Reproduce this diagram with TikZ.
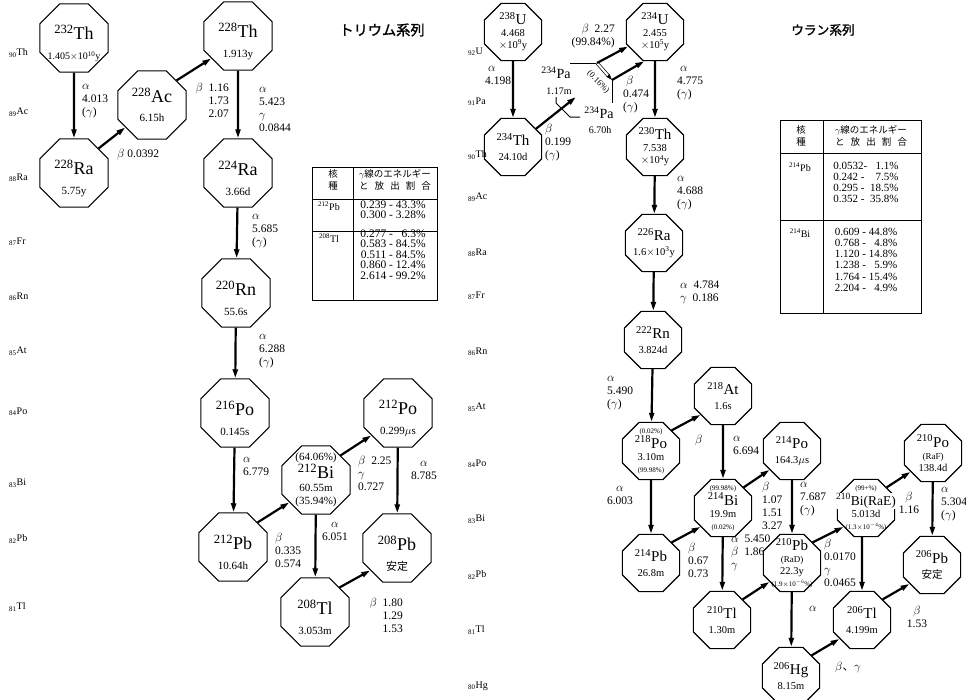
\documentclass[tikz,border=0pt]{standalone}
\usepackage{fontspec}
\setmainfont{Liberation Serif}
\newfontfamily\jp{Noto Sans CJK JP}
\newfontfamily\jpbf[FakeBold=1.5]{Noto Sans CJK JP}
\usetikzlibrary{arrows.meta, shapes.geometric, positioning}
\newcommand\iso[3][18]{{\fontsize{#1}{#1}\selectfont\textsuperscript{#2}#3}}
\newcommand\elem[2]{\textsubscript{#1}#2}
\newcommand\pct[1]{{\fontsize{7}{8}\selectfont(#1\%)}}
\newcommand\twol[2]{\rule{0pt}{26pt}#1\\[7pt]#2}
\tikzset{
    nuc/.style={regular polygon, regular polygon sides=8, draw, line width=1.1pt,
                minimum size=74pt, inner sep=-6pt, align=center,
                font=\fontsize{11}{13}\selectfont},
    nucs/.style={nuc, minimum size=62pt, font=\fontsize{10.5}{12}\selectfont},
    decay/.style={->, >={Stealth[length=9pt, width=5pt, inset=0pt]}, line width=2.2pt},
    itline/.style={->, >={Stealth[length=6pt, width=4pt, inset=0pt]}, double, double distance=2pt, line width=0.7pt},
    bracket/.style={line width=1pt},
    lbl/.style={anchor=north west, inner sep=0pt, align=left,
                font=\fontsize{11.5}{13}\selectfont, execute at begin node=\strut},
    lblr/.style={lbl, anchor=north east, align=right},
    lblc/.style={lbl, anchor=north, align=center},
    zlbl/.style={anchor=west, inner sep=0pt, font=\fontsize{10}{10}\selectfont},
    ttl/.style={inner sep=0pt, font=\jpbf\fontsize{14.2}{15}\selectfont},
    tab/.style={line width=0.9pt},
    tabjp/.style={inner sep=0pt, align=center, font=\jp\fontsize{9.5}{12}\selectfont},
    tabnum/.style={inner sep=0pt, font=\fontsize{11.5}{10}\selectfont},
}
\begin{document}
\begin{tikzpicture}[x=1pt, y=-1pt]
    \useasboundingbox (0,0) rectangle (966,699);

    % --- thorium series ---
    \node[ttl] (ttlth) at (382,30) {トリウム系列};
    \node[zlbl] (lz90) at (9,53) {\elem{90}{Th}};
    \node[zlbl] (lz89) at (9,112) {\elem{89}{Ac}};
    \node[zlbl] (lz88) at (9,178) {\elem{88}{Ra}};
    \node[zlbl] (lz87) at (9,242) {\elem{87}{Fr}};
    \node[zlbl] (lz86) at (9,297) {\elem{86}{Rn}};
    \node[zlbl] (lz85) at (9,351) {\elem{85}{At}};
    \node[zlbl] (lz84) at (9,412) {\elem{84}{Po}};
    \node[zlbl] (lz83) at (9,483) {\elem{83}{Bi}};
    \node[zlbl] (lz82) at (9,539) {\elem{82}{Pb}};
    \node[zlbl] (lz81) at (9,607) {\elem{81}{Tl}};

    \node[nuc] (th232) at (74,38) {\twol{\iso{232}{Th}}{{\fontsize{10}{12}\selectfont 1.405$\times$10\textsuperscript{10}y}}};
    \node[nuc] (ra228) at (74,173) {\twol{\iso{228}{Ra}}{5.75y}};
    \node[nuc] (ac228) at (152,105) {\iso{228}{Ac}\\[6pt]6.15h};
    \node[nuc] (th228) at (238,36) {\twol{\iso{228}{Th}}{1.913y}};
    \node[nuc] (ra224) at (238,173) {\twol{\iso{224}{Ra}}{3.66d}};
    \node[nuc] (rn220) at (236,293) {\twol{\iso{220}{Rn}}{55.6s}};
    \node[nuc] (po216) at (235,413) {\twol{\iso{216}{Po}}{0.145s}};
    \node[nuc] (pb212) at (233,547) {\twol{\iso{212}{Pb}}{10.64h}};
    \node[nuc] (bi212) at (316,480) {(64.06\%)\\\iso{212}{Bi}\\60.55m\\(35.94\%)};
    \node[nuc] (po212) at (398,413) {\twol{\iso{212}{Po}}{0.299$\mu$s}};
    \node[nuc] (pb208) at (397,548) {\twol{\iso{208}{Pb}}{{\jp 安定}}};
    \node[nuc] (tl208) at (315,612) {\twol{\iso{208}{Tl}}{3.053m}};

    \draw[decay] (th232) -- (ra228);
    \draw[decay] (ra228.45) -- (ac228.220);
    \draw[decay] (ac228.45) -- (th228.220);
    \draw[decay] (th228) -- (ra224);
    \draw[decay] (ra224) -- (rn220);
    \draw[decay] (rn220) -- (po216);
    \draw[decay] (po216) -- (pb212);
    \draw[decay] (pb212.45) -- (bi212.220);
    \draw[decay] (bi212.45) -- (po212.220);
    \draw[decay] (bi212) -- (tl208);
    \draw[decay] (po212) -- (pb208);
    \draw[decay] (tl208.45) -- (pb208.220);

    \node[lbl] (la1) at (82,84) {$\alpha$\\4.013\\($\gamma$)};
    \node[lbl] (lb1) at (117,148) {$\beta$\ 0.0392};
    \node[lblr] (lb2) at (229,83) {$\beta$\ \ 1.16\\1.73\\2.07};
    \node[lbl] (la2) at (259,87) {$\alpha$\\5.423\\$\gamma$\\0.0844};
    \node[lbl] (la3) at (252,214) {$\alpha$\\5.685\\($\gamma$)};
    \node[lbl] (la4) at (259,334) {$\alpha$\\6.288\\($\gamma$)};
    \node[lbl] (la5) at (243,457) {$\alpha$\\6.779};
    \node[lbl] (lb3) at (275,533) {$\beta$\\0.335\\0.574};
    \node[lbl] (lb4) at (358,456) {$\beta$\ \ 2.25\\$\gamma$\\0.727};
    \node[lblc] (la6) at (335,522) {$\alpha$\\6.051};
    \node[lblc] (la7) at (424,461) {$\alpha$\\8.785};
    \node[lblr] (lb5) at (403,598) {$\beta$\ \ 1.80\\1.29\\1.53};

    % gamma table, thorium
    \draw[tab] (312,167) rectangle (437,300);
    \draw[tab] (353,167) -- (353,300);
    \draw[tab] (312,199) -- (437,199);
    \draw[tab] (312,231) -- (437,231);
    \node[tabjp] (lth1) at (333,180) {核\\種};
    \node[tabjp] (lth2) at (395,180) {$\gamma$線のエネルギー\\\makebox[72pt][s]{と\hfil 放\hfil 出\hfil 割\hfil 合}};
    \node[tabnum] (ltn1) at (329,206) {\iso[10]{212}{Pb}};
    \node[tabnum] (ltv1) at (393,211) {\begin{tabular}{@{}r@{ - }r@{}}0.239&43.3\%\\0.300&3.28\%\end{tabular}};
    \node[tabnum] (ltn2) at (329,238) {\iso[10]{208}{Tl}};
    \node[tabnum, font=\fontsize{11.5}{9.6}\selectfont] (ltv2) at (393,256) {\begin{tabular}{@{}r@{ - }r@{}}0.277&6.3\%\\0.583&84.5\%\\0.511&84.5\%\\0.860&12.4\%\\2.614&99.2\%\end{tabular}};

    % --- uranium series ---
    \node[ttl, font=\jpbf\fontsize{12.7}{14}\selectfont] (ttlu) at (823,30) {ウラン系列};
    \node[zlbl] (rz92) at (468,52) {\elem{92}{U}};
    \node[zlbl] (rz91) at (468,102) {\elem{91}{Pa}};
    \node[zlbl] (rz90) at (468,155) {\elem{90}{Th}};
    \node[zlbl] (rz89) at (468,197) {\elem{89}{Ac}};
    \node[zlbl] (rz88) at (468,253) {\elem{88}{Ra}};
    \node[zlbl] (rz87) at (468,296) {\elem{87}{Fr}};
    \node[zlbl] (rz86) at (468,352) {\elem{86}{Rn}};
    \node[zlbl] (rz85) at (468,407) {\elem{85}{At}};
    \node[zlbl] (rz84) at (468,464) {\elem{84}{Po}};
    \node[zlbl] (rz83) at (468,519) {\elem{83}{Bi}};
    \node[zlbl] (rz82) at (468,575) {\elem{82}{Pb}};
    \node[zlbl] (rz81) at (468,630) {\elem{81}{Tl}};
    \node[zlbl] (rz80) at (468,686) {\elem{80}{Hg}};

    \node[nucs] (u238) at (513,32) {\iso[15]{238}{U}\\4.468\\$\times$10\textsuperscript{9}y};
    \node[nucs] (th234) at (513,147) {\iso[15]{234}{Th}\\[3pt]24.10d};
    \node[nucs] (u234) at (655,32) {\iso[15]{234}{U}\\2.455\\$\times$10\textsuperscript{5}y};
    \node[nucs] (th230) at (655,147) {\iso[15]{230}{Th}\\7.538\\$\times$10\textsuperscript{4}y};
    \node[nucs] (ra226) at (654,243) {\iso[15]{226}{Ra}\\[3pt]1.6$\times$10\textsuperscript{3}y};
    \node[nucs] (rn222) at (653,340) {\iso[15]{222}{Rn}\\[3pt]3.824d};
    \node[nucs] (at218) at (723,396) {\iso[15]{218}{At}\\[3pt]1.6s};
    \node[nucs] (po218) at (651,451) {\pct{0.02}\\\iso[15]{218}{Po}\\3.10m\\\pct{99.98}};
    \node[nucs] (pb214) at (651,563) {\iso[15]{214}{Pb}\\[3pt]26.8m};
    \node[nucs] (bi214) at (723,508) {\pct{99.98}\\\iso[15]{214}{Bi}\\19.9m\\\pct{0.02}};
    \node[nucs] (po214) at (792,451) {\iso[15]{214}{Po}\\[3pt]164.3$\mu$s};
    \node[nucs] (tl210) at (722,620) {\iso[15]{210}{Tl}\\[3pt]1.30m};
    \node[nucs] (pb210) at (792,563) {\iso[15]{210}{Pb}\\{\fontsize{9}{10}\selectfont(RaD)}\\22.3y\\\pct{1.9$\times$10\textsuperscript{$-$6}}};
    \node[nucs] (hg206) at (791,676) {\iso[15]{206}{Hg}\\[3pt]8.15m};
    \node[nucs] (bi210) at (866,508) {\pct{99+}\\\makebox[0pt]{\fboxsep=1pt\colorbox{white}{\iso[13.5]{210}{Bi(RaE)}}}\\5.013d\\\pct{1.3$\times$10\textsuperscript{$-$4}}};
    \node[nucs] (po210) at (933,453) {\iso[15]{210}{Po}\\{\fontsize{9}{10}\selectfont(RaF)}\\138.4d};
    \node[nucs] (pb206) at (932,565) {\iso[15]{206}{Pb}\\[3pt]{\jp 安定}};
    \node[nucs] (tl206) at (862,620) {\iso[15]{206}{Tl}\\[3pt]4.199m};

    % protactinium states
    \coordinate (pam) at (597,63);
    \coordinate (pag) at (612,80);
    \coordinate (pain) at (576,97);
    \node[inner sep=0pt] (pamt) at (556,73) {\iso[14]{234}{Pa}};
    \node[inner sep=0pt, font=\fontsize{10}{10}\selectfont] (pamh) at (559,91) {1.17m};
    \node[inner sep=0pt] (pagt) at (599,113) {\iso[14]{234}{Pa}};
    \node[inner sep=0pt, font=\fontsize{10}{10}\selectfont] (pagh) at (600,130) {6.70h};
    \draw[bracket] (570,63) -- (pam);
    \draw[bracket] (pag) -- (612,103);
    \draw[bracket] (556,97) -- (556,103) -- (570,117) -- (580,117);
    \draw[itline] (pam) -- (pag);

    \draw[decay] (u238) -- (th234);
    \draw[decay] (th234) -- (pain);
    \draw[decay] (pam) -- (u234);
    \draw[decay] (pag) -- (u234.250);
    \draw[decay] (u234) -- (th230);
    \draw[decay] (th230) -- (ra226);
    \draw[decay] (ra226) -- (rn222);
    \draw[decay] (rn222) -- (po218);
    \draw[decay] (po218.45) -- (at218.220);
    \draw[decay] (po218) -- (pb214);
    \draw[decay] (at218) -- (bi214);
    \draw[decay] (pb214.45) -- (bi214.220);
    \draw[decay] (bi214.45) -- (po214.220);
    \draw[decay] (bi214) -- (tl210);
    \draw[decay] (po214) -- (pb210);
    \draw[decay] (tl210.45) -- (pb210.220);
    \draw[decay] (pb210.45) -- (bi210.220);
    \draw[decay] (pb210) -- (hg206);
    \draw[decay] (bi210.45) -- (po210.220);
    \draw[decay] (tl206 |- bi210.south) -- (tl206);
    \draw[decay] (po210) -- (pb206);
    \draw[decay] (tl206.45) -- (pb206.220);
    \draw[decay] (hg206.45) -- (tl206.220);

    \node[lbl] (ra1) at (485,66) {\ $\alpha$\\4.198};
    \node[lblr] (rb1) at (615,24) {$\beta$\ \ 2.27\\(99.84\%)};
    \node[inner sep=0pt, rotate=-45, font=\fontsize{8.5}{9}\selectfont] (rit) at (598,82) {(0.16\%)};
    \node[lbl] (rb2) at (623,76) {\ $\beta$\\0.474\\($\gamma$)};
    \node[lbl] (ra2) at (677,66) {\ $\alpha$\\4.775\\($\gamma$)};
    \node[lbl] (rb3) at (545,124) {$\beta$\\0.199\\($\gamma$)};
    \node[lbl] (ra3) at (677,176) {$\alpha$\\4.688\\($\gamma$)};
    \node[lbl] (ra4) at (680,281) {$\alpha$\ \ 4.784\\$\gamma$\ \ 0.186};
    \node[lbl] (ra5) at (607,376) {$\alpha$\\5.490\\($\gamma$)};
    \node[lbl] (rb4) at (695,434) {$\beta$};
    \node[lbl] (ra6) at (733,436) {$\alpha$\\6.694};
    \node[lblc] (ra7) at (620,486) {$\alpha$\\6.003};
    \node[lbl] (rb5) at (688,543) {$\beta$\\0.67\\0.73};
    \node[lbl] (rb6) at (762,482) {$\beta$\\1.07\\1.51\\3.27};
    \node[lbl] (ra8) at (731,535) {$\alpha$\ \ 5.450\\$\beta$\ \ 1.86\\$\gamma$};
    \node[lbl] (ra9) at (800,482) {$\alpha$\\7.687\\($\gamma$)};
    \node[lbl] (rb7) at (824,539) {$\beta$\\0.0170\\$\gamma$\\0.0465};
    \node[lbl] (ra10) at (809,602) {$\alpha$};
    \node[lblc] (rb8) at (909,492) {$\beta$\\1.16};
    \node[lbl] (ra11) at (941,487) {$\alpha$\\5.304\\($\gamma$)};
    \node[lblc] (rb9) at (917,606) {$\beta$\\1.53};
    \node[lbl] (rb10) at (835,661) {$\beta${\jp 、}$\gamma$};

    % gamma table, uranium
    \draw[tab] (780,120) rectangle (921,313);
    \draw[tab] (823,120) -- (823,313);
    \draw[tab] (780,153) -- (921,153);
    \draw[tab] (780,220) -- (921,220);
    \node[tabjp] (rth1) at (801,136) {核\\種};
    \node[tabjp] (rth2) at (871,136) {$\gamma$線のエネルギー\\\makebox[72pt][s]{と\hfil 放\hfil 出\hfil 割\hfil 合}};
    \node[tabnum] (rtn1) at (800,167) {\iso[10]{214}{Pb}};
    \node[tabnum, font=\fontsize{11}{11.1}\selectfont] (rtv1) at (866,184) {\begin{tabular}{@{}l@{\ }r@{}}0.0532-&1.1\%\\0.242 -&7.5\%\\0.295 -&18.5\%\\0.352 -&35.8\%\end{tabular}};
    \node[tabnum] (rtn2) at (800,233) {\iso[10]{214}{Bi}};
    \node[tabnum, font=\fontsize{11}{11.2}\selectfont] (rtv2) at (866,261) {\begin{tabular}{@{}l@{\ }r@{}}0.609 -&44.8\%\\0.768 -&4.8\%\\1.120 -&14.8\%\\1.238 -&5.9\%\\1.764 -&15.4\%\\2.204 -&4.9\%\end{tabular}};
\end{tikzpicture}
\end{document}
